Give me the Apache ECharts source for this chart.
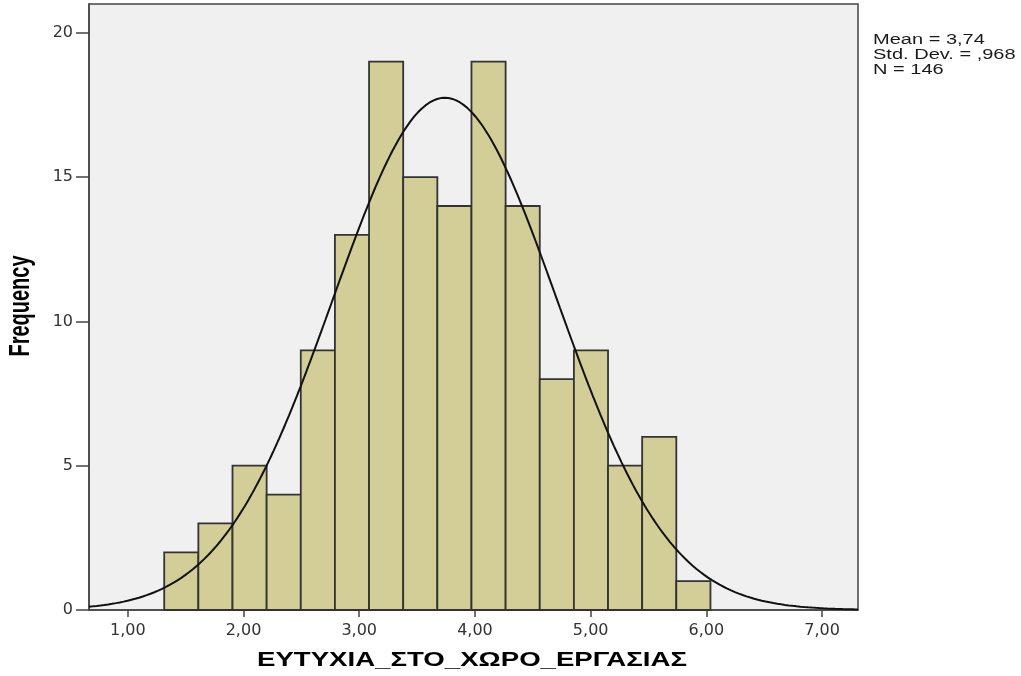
<!DOCTYPE html>
<html><head><meta charset="utf-8">
<script src="https://cdn.jsdelivr.net/npm/echarts@6/dist/echarts.min.js"></script>
<style>html,body{margin:0;padding:0;background:#fff}#c{width:1021px;height:676px}</style>
</head><body><div id="c"></div>
<script>
// ---- data ----
const binLow = [1.315, 1.61, 1.905, 2.2, 2.495, 2.79, 3.085, 3.38, 3.675, 3.97, 4.265, 4.56, 4.855, 5.15, 5.445, 5.74];
const binWidth = 0.295;
const counts = [2, 3, 5, 4, 9, 13, 19, 15, 14, 19, 14, 8, 9, 5, 6, 1];
const statMean = 3.74;
const statSD = 0.968;
const statN = 146;
const statLines = ['Mean = 3,74', 'Std. Dev. = ,968', 'N = 146'];
const xTicks = [1, 2, 3, 4, 5, 6, 7];
const yTicks = [0, 5, 10, 15, 20];
const xTitle = 'ΕΥΤΥΧΙΑ_ΣΤΟ_ΧΩΡΟ_ΕΡΓΑΣΙΑΣ';
const yTitle = 'Frequency';

// ---- build ----
const barData = binLow.map((lo, i) => [lo, lo + binWidth, counts[i]]);
const xMin = 0.665, xMax = 7.31;
const curve = [];
for (let k = 0; k <= 400; k++) {
  const x = xMin + (xMax - xMin) * k / 400;
  const z = (x - statMean) / statSD;
  curve.push([x, statN * binWidth * Math.exp(-0.5 * z * z) / (statSD * Math.sqrt(2 * Math.PI))]);
}

const chart = echarts.init(document.getElementById('c'));
chart.setOption({
  animation: false,
  backgroundColor: '#ffffff',
  grid: { left: 89, top: 4, right: 163, bottom: 66, show: true, backgroundColor: '#F0F0F0', borderColor: '#444', borderWidth: 1.5 },
  xAxis: {
    type: 'value', min: xMin, max: xMax,
    axisLine: { show: true, onZero: false, lineStyle: { color: '#444', width: 1.5 } },
    axisTick: { show: true, customValues: xTicks, length: 7, lineStyle: { color: '#444', width: 1.5 } },
    axisLabel: { customValues: xTicks, margin: 13, color: '#333', fontFamily: 'DejaVu Sans', fontSize: 16,
      formatter: v => v.toFixed(2).replace('.', ',') },
    splitLine: { show: false }
  },
  yAxis: {
    type: 'value', min: 0, max: 21,
    axisLine: { show: true, lineStyle: { color: '#444', width: 1.5 } },
    axisTick: { show: true, customValues: yTicks, length: 13, lineStyle: { color: '#444', width: 1.5 } },
    axisLabel: { customValues: yTicks, margin: 16, color: '#333', fontFamily: 'DejaVu Sans', fontSize: 16 },
    splitLine: { show: false }
  },
  series: [
    {
      type: 'custom', data: barData, encode: { x: [0, 1], y: 2 }, z: 2,
      renderItem: (params, api) => {
        const p0 = api.coord([api.value(0), api.value(2)]);
        const p1 = api.coord([api.value(1), 0]);
        return { type: 'rect', shape: { x: p0[0], y: p0[1], width: p1[0] - p0[0], height: p1[1] - p0[1] },
          style: { fill: '#D3CE98', stroke: '#333', lineWidth: 1.8 } };
      }
    },
    {
      type: 'line', data: curve, showSymbol: false, symbol: 'none', z: 3,
      lineStyle: { color: '#111', width: 2 }
    }
  ],
  graphic: [
    { type: 'text', x: 873, y: 33, scaleX: 1.43, style: { text: statLines.join('\n'), font: '14px "Liberation Sans"', fill: '#1a1a1a', lineHeight: 15, textAlign: 'left', textVerticalAlign: 'top' } },
    { type: 'text', x: 472, y: 660, scaleX: 1.38, style: { text: xTitle, font: 'bold 20px "Liberation Sans"', fill: '#000', textAlign: 'center', textVerticalAlign: 'middle' } },
    { type: 'text', x: 21, y: 306, rotation: Math.PI / 2, scaleY: 1.45, style: { text: yTitle, font: 'bold 20px "Liberation Sans"', fill: '#000', textAlign: 'center', textVerticalAlign: 'middle' } }
  ]
});
</script></body></html>
